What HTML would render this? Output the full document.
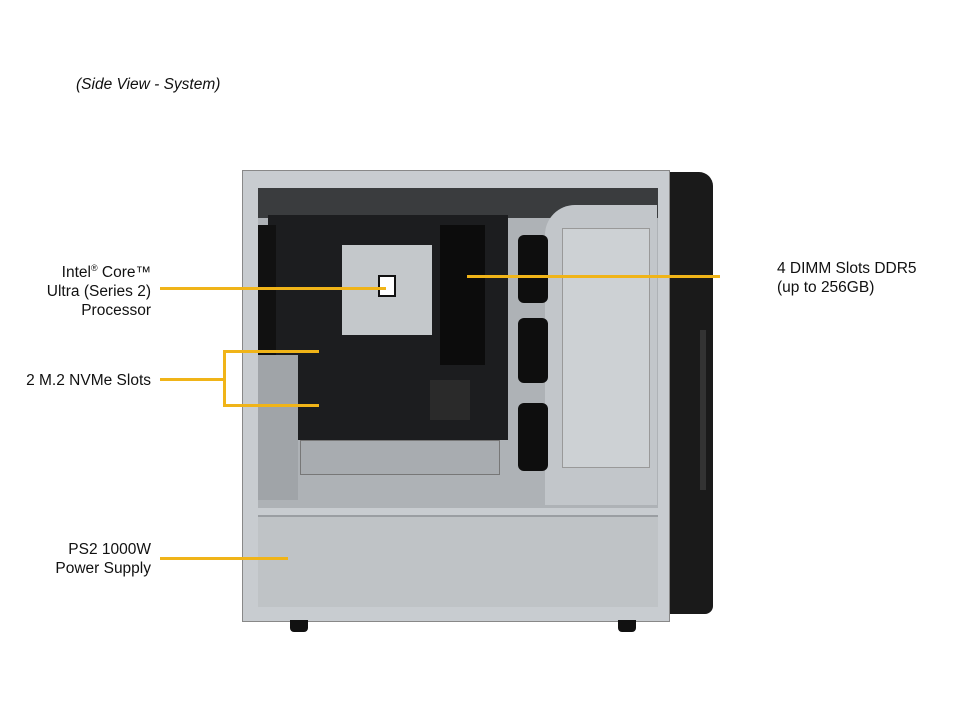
<!DOCTYPE html>
<html><head><style>
body{margin:0;width:960px;height:720px;background:#fff;position:relative;overflow:hidden;font-family:"Liberation Sans",sans-serif}
div{position:absolute;box-sizing:border-box}
.t{font-size:15.5px;color:#111;line-height:19px;white-space:nowrap}
.y{background:#f0b418}
</style></head><body>
<div class="t" style="left:76px;top:75px;font-style:italic">(Side View - System)</div>

<!-- case -->
<div style="left:655px;top:172px;width:58px;height:442px;background:#1a1a1a;border-radius:0 14px 8px 0"></div>
<div style="left:700px;top:330px;width:6px;height:160px;background:#333"></div>
<div style="left:242px;top:170px;width:428px;height:452px;background:#c8ccd0;border:1px solid #888"></div>
<div style="left:258px;top:188px;width:400px;height:320px;background:#aeb2b6"></div>
<div style="left:258px;top:188px;width:400px;height:30px;background:#3a3c3e"></div>
<div style="left:545px;top:205px;width:112px;height:300px;background:#c2c6ca;border-radius:30px 0 0 0"></div>
<div style="left:562px;top:228px;width:88px;height:240px;background:#cdd1d4;border:1px solid #999"></div>
<div style="left:268px;top:215px;width:240px;height:225px;background:#1c1d1f"></div>
<div style="left:258px;top:225px;width:18px;height:150px;background:#111"></div>
<div style="left:258px;top:355px;width:40px;height:145px;background:#a0a4a8"></div>
<div style="left:300px;top:440px;width:200px;height:35px;background:#a8acb0;border:1px solid #777"></div>
<div style="left:342px;top:245px;width:90px;height:90px;background:#c4c8cb"></div>
<div style="left:378px;top:275px;width:18px;height:22px;background:#fff;border:2px solid #111"></div>
<div style="left:440px;top:225px;width:45px;height:140px;background:#0c0c0c"></div>
<div style="left:518px;top:235px;width:30px;height:68px;background:#0e0e0e;border-radius:6px"></div>
<div style="left:518px;top:318px;width:30px;height:65px;background:#0e0e0e;border-radius:6px"></div>
<div style="left:518px;top:403px;width:30px;height:68px;background:#0e0e0e;border-radius:6px"></div>
<div style="left:430px;top:380px;width:40px;height:40px;background:#2a2a2a"></div>
<div style="left:258px;top:515px;width:400px;height:92px;background:#bfc3c6;border-top:2px solid #9a9ea2"></div>
<div style="left:290px;top:620px;width:18px;height:12px;background:#111;border-radius:0 0 4px 4px"></div>
<div style="left:618px;top:620px;width:18px;height:12px;background:#111;border-radius:0 0 4px 4px"></div>

<!-- labels -->
<div class="t" style="left:0;top:259px;width:151px;text-align:right">Intel<sup style="font-size:9px">®</sup> Core™<br>Ultra (Series 2)<br>Processor</div>
<div class="y" style="left:160px;top:287px;width:226px;height:3px"></div>
<div class="t" style="left:0;top:371px;width:151px;text-align:right">2 M.2 NVMe Slots</div>
<div class="y" style="left:160px;top:378px;width:65px;height:3px"></div>
<div class="y" style="left:223px;top:350px;width:3px;height:56px"></div>
<div class="y" style="left:223px;top:350px;width:96px;height:3px"></div>
<div class="y" style="left:223px;top:404px;width:96px;height:3px"></div>
<div class="t" style="left:0;top:540px;width:151px;text-align:right">PS2 1000W<br>Power Supply</div>
<div class="y" style="left:160px;top:557px;width:128px;height:3px"></div>
<div class="y" style="left:467px;top:275px;width:253px;height:3px"></div>
<div class="t" style="left:777px;top:259px">4 DIMM Slots DDR5<br>(up to 256GB)</div>
</body></html>
